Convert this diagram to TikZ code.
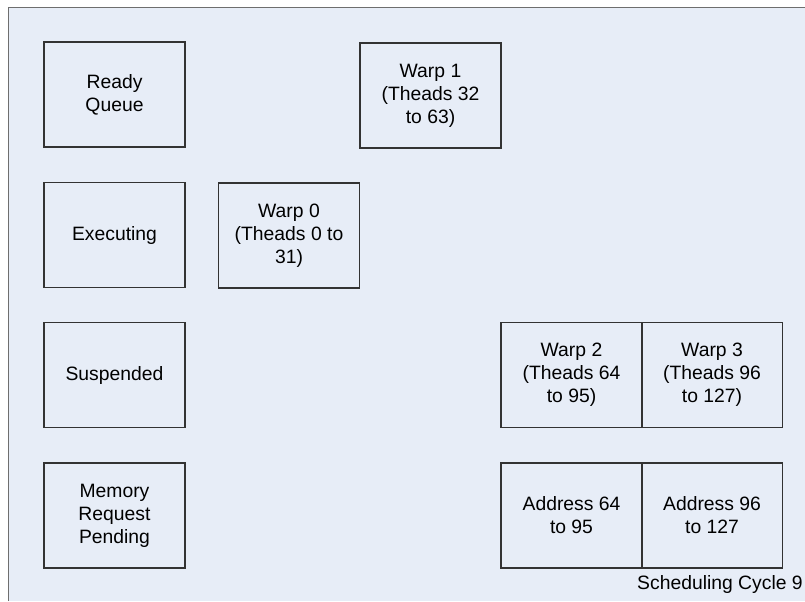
\documentclass[tikz,border=0pt]{standalone}
\usepackage{fontspec}
\setmainfont{Liberation Sans}
\definecolor{bgblue}{HTML}{E7EDF7}
\definecolor{boxline}{HTML}{333333}
\definecolor{frameline}{HTML}{6E6E6E}
\begin{document}
\begin{tikzpicture}[x=0.75pt,y=-0.75pt,
  box/.style={draw=boxline, line width=0.8pt, minimum width=105.75pt, minimum height=78.75pt,
    inner sep=0pt, align=center, font=\fontsize{14.5pt}{17.3pt}\selectfont, text=black}]
\useasboundingbox (0,0) rectangle (805,601);
\fill[white] (0,0) rectangle (805,601);
\fill[bgblue] (8.5,7.5) rectangle (805,601);
\draw[frameline, line width=1pt] (8.5,601) -- (8.5,7.5) -- (805,7.5);

\node[box] (ready) at (114.5,94.5) {Ready\\Queue};
\node[box] (exec) at (114.5,235) {Executing};
\node[box] (susp) at (114.5,375) {Suspended};
\node[box] (mem) at (114.5,515.5) {Memory\\Request\\Pending};

\node[box] (w1) at (430.5,95.5) {Warp 1\\(Theads 32\\to 63)};
\node[box] (w0) at (289,235.5) {Warp 0\\(Theads 0 to\\31)};
\node[box] (w2) at (571.5,375) {Warp 2\\(Theads 64\\to 95)};
\node[box] (w3) at (712,375) {Warp 3\\(Theads 96\\to 127)};
\node[box] (a2) at (571.5,515.5) {Address 64\\to 95};
\node[box] (a3) at (712,515.5) {Address 96\\to 127};

\node[anchor=base east, inner sep=0pt, font=\fontsize{14.5pt}{17.3pt}\selectfont] (cyc) at (803,589.5) {Scheduling Cycle 9};
\end{tikzpicture}
\end{document}
